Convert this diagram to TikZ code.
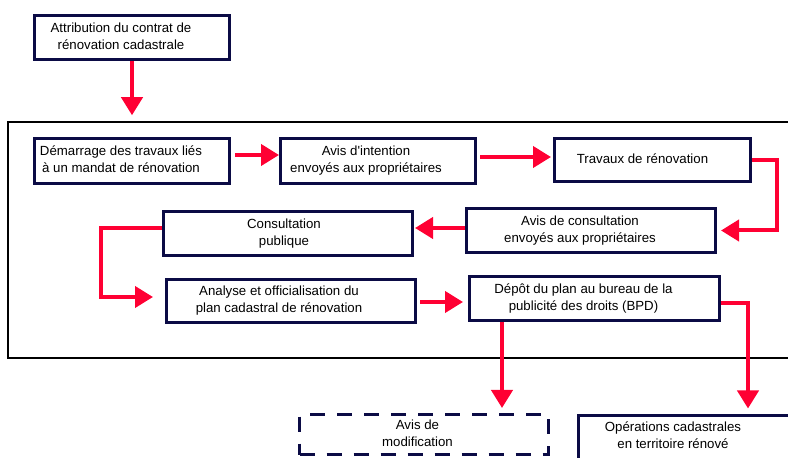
\documentclass[tikz,border=0pt]{standalone}
\usepackage{fontspec}
\setmainfont{Liberation Sans}
\usetikzlibrary{arrows.meta}

\definecolor{bleunuit}{RGB}{11,11,69}
\definecolor{rouge}{RGB}{255,0,51}

% text of a box, pushed a bit to the left
\newcommand\btxt[2][22bp]{\begin{tabular}{@{}c@{}}#2\end{tabular}\hspace*{#1}}

\tikzset{
  etape/.style={draw=bleunuit,line width=3bp,inner sep=0pt,
    minimum width=249bp,minimum height=44bp,
    font=\fontsize{13.3}{17}\selectfont},
  fleche/.style={draw=rouge,line width=4bp,
    -{Triangle[length=18bp,width=21bp]}},
  lien/.style={draw=rouge,line width=4bp}
}

\begin{document}
\begin{tikzpicture}[x=1bp,y=-1bp]

\useasboundingbox (0,0) rectangle (788,458);

% cadre des travaux
\node[draw,line width=1.5bp,minimum width=792bp,minimum height=236bp]
(cadre)
at (404,240)
{};

\node[etape,minimum width=195bp]
(attrib)
at (132,37.5)
{\btxt{Attribution du contrat de\\rénovation cadastrale}};

\node[etape,minimum width=195bp,minimum height=45bp]
(demarr)
at (132,161)
{\btxt{Démarrage des travaux liés\\à un mandat de rénovation}};

\node[etape,minimum width=195bp,minimum height=45bp]
(intention)
at (378,161)
{\btxt[24bp]{Avis d\textquotesingle intention\\envoyés aux propriétaires}};

\node[etape,minimum width=196bp,minimum height=43bp]
(travaux)
at (652.5,160)
{\btxt[20bp]{Travaux de rénovation}};

\node[etape]
(consultavis)
at (591,230.5)
{\btxt{Avis de consultation\\envoyés aux propriétaires}};

\node[etape]
(consultpub)
at (288,233.5)
{\btxt[8bp]{Consultation\\publique}};

\node[etape,minimum height=43bp]
(analyse)
at (291,301)
{\btxt[24bp]{Analyse et officialisation du\\plan cadastral de rénovation}};

\node[etape,minimum width=250bp]
(depot)
at (594.5,298.5)
{\btxt{Dépôt du plan au bureau de la\\publicité des droits (BPD)}};

\node[etape,minimum height=40bp,dash pattern=on 15bp off 12bp]
(modif)
at (424,434.5)
{\btxt[13bp]{Avis de\\modification}};

\node[etape,minimum width=255bp]
(operations)
at (706,437)
{\btxt[66bp]{Opérations cadastrales\\en territoire rénové}};

% fleches
\draw[fleche,shorten >=6bp]
(attrib.south)
--
(attrib.south |- cadre.north);

\draw[fleche,shorten <=4bp]
([yshift=6bp]demarr.east)
--
([yshift=6bp]intention.west);

\draw[fleche,shorten <=3bp,shorten >=2bp]
([yshift=4bp]intention.east)
--
([yshift=4bp]intention.east -| travaux.west);

\draw[fleche,shorten >=4bp]
(travaux.east)
--
++(25,0)
|-
(consultavis.east);

\draw[fleche,shorten >=1bp]
([yshift=2.5bp]consultavis.west)
--
([yshift=2.5bp]consultavis.west -| consultpub.east);

\draw[fleche,shorten >=12bp]
([yshift=5.5bp]consultpub.west)
--
++(-61,0)
|-
([yshift=4bp]analyse.west);

\draw[fleche,shorten <=3bp,shorten >=5bp]
([yshift=-1bp]analyse.east)
--
([yshift=-1bp]analyse.east -| depot.west);

\draw[fleche,shorten >=5bp]
([xshift=34bp]depot.south west)
--
([xshift=34bp]depot.south west |- modif.north);

\draw[fleche,shorten >=5bp]
([yshift=-4.5bp]depot.east)
-|
([xshift=171bp]operations.north west);

\end{tikzpicture}
\end{document}
